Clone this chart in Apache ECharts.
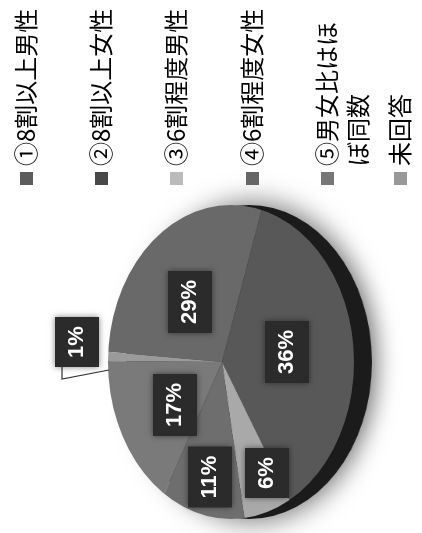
<!DOCTYPE html>
<html>
<head>
<meta charset="utf-8">
<style>
  html, body { margin: 0; padding: 0; background: #fff; overflow: hidden; }
  #clip, #pie, #main { position: absolute; left: 0; top: 0; width: 422px; height: 533px; }
  /* 楕円に見せるため円グラフだけ横につぶす。つぶす分だけ影用のキャンバスは広くとる */
  #rim { position: absolute; left: 0; top: 0; width: 640px; height: 533px; transform: scaleX(0.783); transform-origin: 231px 362px; }
  #pie { transform: scaleX(0.783); transform-origin: 222px 362px; }
  /* 元図は立体なので中心が楕円の中央からずれている */
  #clip { clip-path: ellipse(123px 157px at 231px 362px); }
</style>
<script src="https://cdn.jsdelivr.net/npm/echarts@6/dist/echarts.min.js"></script>
</head>
<body>
<div id="rim"></div>
<div id="clip"><div id="pie"></div></div>
<div id="main"></div>
<script>
const categories = ['①8割以上男性', '②8割以上女性', '③6割程度男性', '④6割程度女性', '⑤男女比はほぼ同数', '未回答'];
const legendLines = [['①8割以上男性'], ['②8割以上女性'], ['③6割程度男性'], ['④6割程度女性'], ['⑤男女比はほ', 'ぼ同数'], ['未回答']];
const values = [29, 36, 6, 11, 17, 1];
const sliceColors = ['#696969', '#585858', '#a9a9a9', '#6e6e6e', '#7a7a7a', '#9a9a9a'];
const legendColors = ['#5c5c5c', '#484848', '#bbbbbb', '#666666', '#767676', '#999999'];

const legendX = [26, 101, 176, 252, 327, 400];
const labelSpots = [[190, 302], [287, 352], [267, 473], [210, 477], [175, 405], [77, 342]];

// 側面と影
const rimChart = echarts.init(document.getElementById('rim'));
rimChart.setOption({
  animation: false,
  series: [
    {
      type: 'pie',
      center: [231 + 23, 362],
      radius: [0, 157],
      silent: true,
      label: { show: false },
      itemStyle: { color: '#1b1b1b', shadowBlur: 30, shadowColor: 'rgba(0,0,0,0.6)', shadowOffsetX: 5 },
      data: [values.reduce((a, b) => a + b, 0)]
    }
  ]
});

const pieChart = echarts.init(document.getElementById('pie'));
pieChart.setOption({
  animation: false,
  series: [
    {
      type: 'pie',
      center: [222, 362],
      radius: [0, 190],
      startAngle: 176,
      silent: true,
      label: { show: false },
      data: categories.map((name, i) => ({
        name: name,
        value: values[i],
        itemStyle: { color: sliceColors[i] }
      }))
    }
  ]
});

const graphics = [];
legendLines.forEach((lines, i) => {
  graphics.push({
    type: 'rect',
    shape: { x: legendX[i] - 6, y: 172, width: 13, height: 13 },
    style: { fill: legendColors[i] },
    silent: true
  });
  lines.forEach((line, j) => {
    graphics.push({
      type: 'text',
      x: legendX[i] + j * 31,
      y: 166,
      rotation: Math.PI / 2,
      style: {
        text: line,
        fill: '#000',
        font: '24px "Noto Sans CJK JP"',
        textAlign: 'left',
        textVerticalAlign: 'middle'
      },
      silent: true
    });
  });
});
// 1%のラベルの引き出し線
graphics.push({
  type: 'polyline',
  shape: { points: [[109, 370], [62, 379], [62, 366]] },
  style: { stroke: '#333', lineWidth: 1.2, fill: null },
  silent: true
});

const chart = echarts.init(document.getElementById('main'));
chart.setOption({
  animation: false,
  graphic: graphics,
  series: [
    {
      type: 'pie',
      center: [231, 362],
      radius: [0, 123],
      startAngle: 176,
      silent: true,
      itemStyle: { color: 'transparent' },
      labelLine: { show: false },
      label: {
        show: true,
        position: 'inside',
        rotate: 90,
        formatter: '{c}%',
        color: '#fff',
        fontFamily: 'Liberation Sans',
        fontWeight: 'bold',
        fontSize: 22,
        backgroundColor: '#2b2b2b',
        padding: [11, 9],
        shadowBlur: 6,
        shadowColor: 'rgba(0,0,0,0.5)'
      },
      labelLayout: (params) => ({
        x: labelSpots[params.dataIndex][0],
        y: labelSpots[params.dataIndex][1],
        align: 'center',
        verticalAlign: 'middle',
        rotate: 90
      }),
      data: categories.map((name, i) => ({ name: name, value: values[i] }))
    }
  ]
});
</script>
</body>
</html>
